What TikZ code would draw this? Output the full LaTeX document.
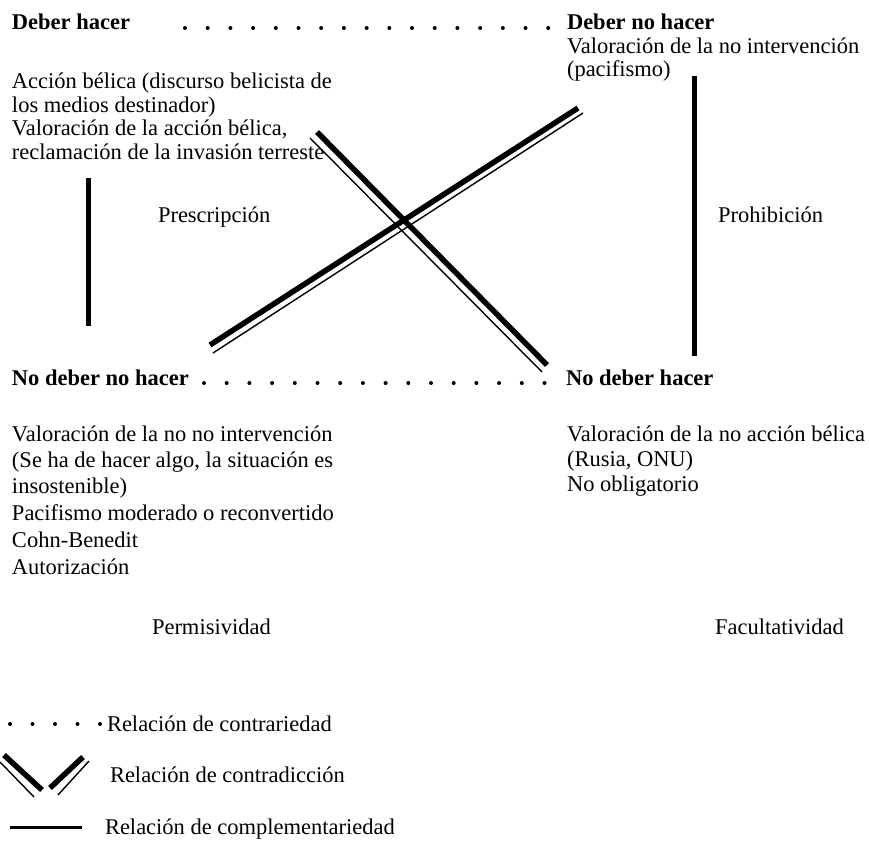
\documentclass[tikz,border=0pt]{standalone}
\usepackage{fontspec}
\setmainfont{Liberation Serif}
\begin{document}
\begin{tikzpicture}[x=1pt,y=-1pt,
  every node/.style={inner sep=0pt,outer sep=0pt,anchor=base west,font=\fontsize{22.5}{25}\selectfont},
  head/.style={font=\fontsize{22.5}{25}\selectfont\bfseries},
  contrary/.style={line width=4pt,line cap=round,dash pattern=on 0pt off 22.7pt},
  thickbar/.style={line width=5.5pt},
  thinbar/.style={line width=1.4pt},
  compl/.style={line width=5pt}]
\useasboundingbox (0,0) rectangle (869,843);
% headings
\node[head] (dh) at (12,30) {Deber hacer};
\node[head] (dnh) at (567,30) {Deber no hacer};
\node[head] (ndnh) at (12,385) {No deber no hacer};
\node[head] (ndh) at (566,385) {No deber hacer};
% top-left text
\node (a1) at (12,88) {Acción bélica (discurso belicista de};
\node (a2) at (12,112) {los medios destinador)};
\node (a3) at (12,135) {Valoración de la acción bélica,};
\node (a4) at (12,159) {reclamación de la invasión terreste};
% top-right text
\node (b1) at (567,53) {Valoración de la no intervención};
\node (b2) at (567,77) {(pacifismo)};
% bottom-left text
\node (c1) at (12,441) {Valoración de la no no intervención};
\node (c2) at (12,467) {(Se ha de hacer algo, la situación es};
\node (c3) at (12,493) {insostenible)};
\node (c4) at (12,520) {Pacifismo moderado o reconvertido};
\node (c5) at (12,547) {Cohn-Benedit};
\node (c6) at (12,574) {Autorización};
% bottom-right text
\node (d1) at (567,441) {Valoración de la no acción bélica};
\node (d2) at (567,466) {(Rusia, ONU)};
\node (d3) at (567,491) {No obligatorio};
% relation labels
\node (pres) at (158,222) {Prescripción};
\node (proh) at (718,222) {Prohibición};
\node (perm) at (152,634) {Permisividad};
\node (fac) at (715,634) {Facultatividad};
% contrariety dots
\coordinate (t1) at (185,28);
\coordinate (t2) at (548.5,28);
\draw[contrary] (t1) -- (t2);
\coordinate (u1) at (204,383);
\coordinate (u2) at (546.5,383);
\draw[contrary] (u1) -- (u2);
% complementarity bars
\coordinate (l1) at (88,178); \coordinate (l2) at (88,326);
\draw[compl] (l1) -- (l2);
\coordinate (r1) at (694,76); \coordinate (r2) at (694,356);
\draw[compl] (r1) -- (r2);
% contradiction cross
\coordinate (xa1) at (210,345); \coordinate (xa2) at (578,108);
\coordinate (xa3) at (213,353); \coordinate (xa4) at (583,113);
\draw[thickbar] (xa1) -- (xa2);
\draw[thinbar] (xa3) -- (xa4);
\coordinate (xb1) at (317,132); \coordinate (xb2) at (547,365);
\coordinate (xb3) at (310,138); \coordinate (xb4) at (542,372);
\draw[thickbar] (xb1) -- (xb2);
\draw[thinbar] (xb3) -- (xb4);
% legend
\coordinate (g1) at (10,724); \coordinate (g2) at (100.5,724);
\draw[contrary,dash pattern=on 0pt off 22.5pt] (g1) -- (g2);
\node (lg1) at (107,731) {Relación de contrariedad};
\coordinate (v1) at (4,755); \coordinate (v2) at (42,790);
\coordinate (v3) at (0,762); \coordinate (v4) at (34,797);
\draw[thickbar] (v1) -- (v2);
\draw[thinbar] (v3) -- (v4);
\coordinate (v5) at (50,788); \coordinate (v6) at (83,757);
\coordinate (v7) at (58,795); \coordinate (v8) at (89,761);
\draw[thickbar] (v5) -- (v6);
\draw[thinbar] (v7) -- (v8);
\node (lg2) at (110,782) {Relación de contradicción};
\coordinate (h1) at (10,827); \coordinate (h2) at (82,827);
\draw[line width=3pt] (h1) -- (h2);
\node (lg3) at (105,834) {Relación de complementariedad};
\end{tikzpicture}
\end{document}
